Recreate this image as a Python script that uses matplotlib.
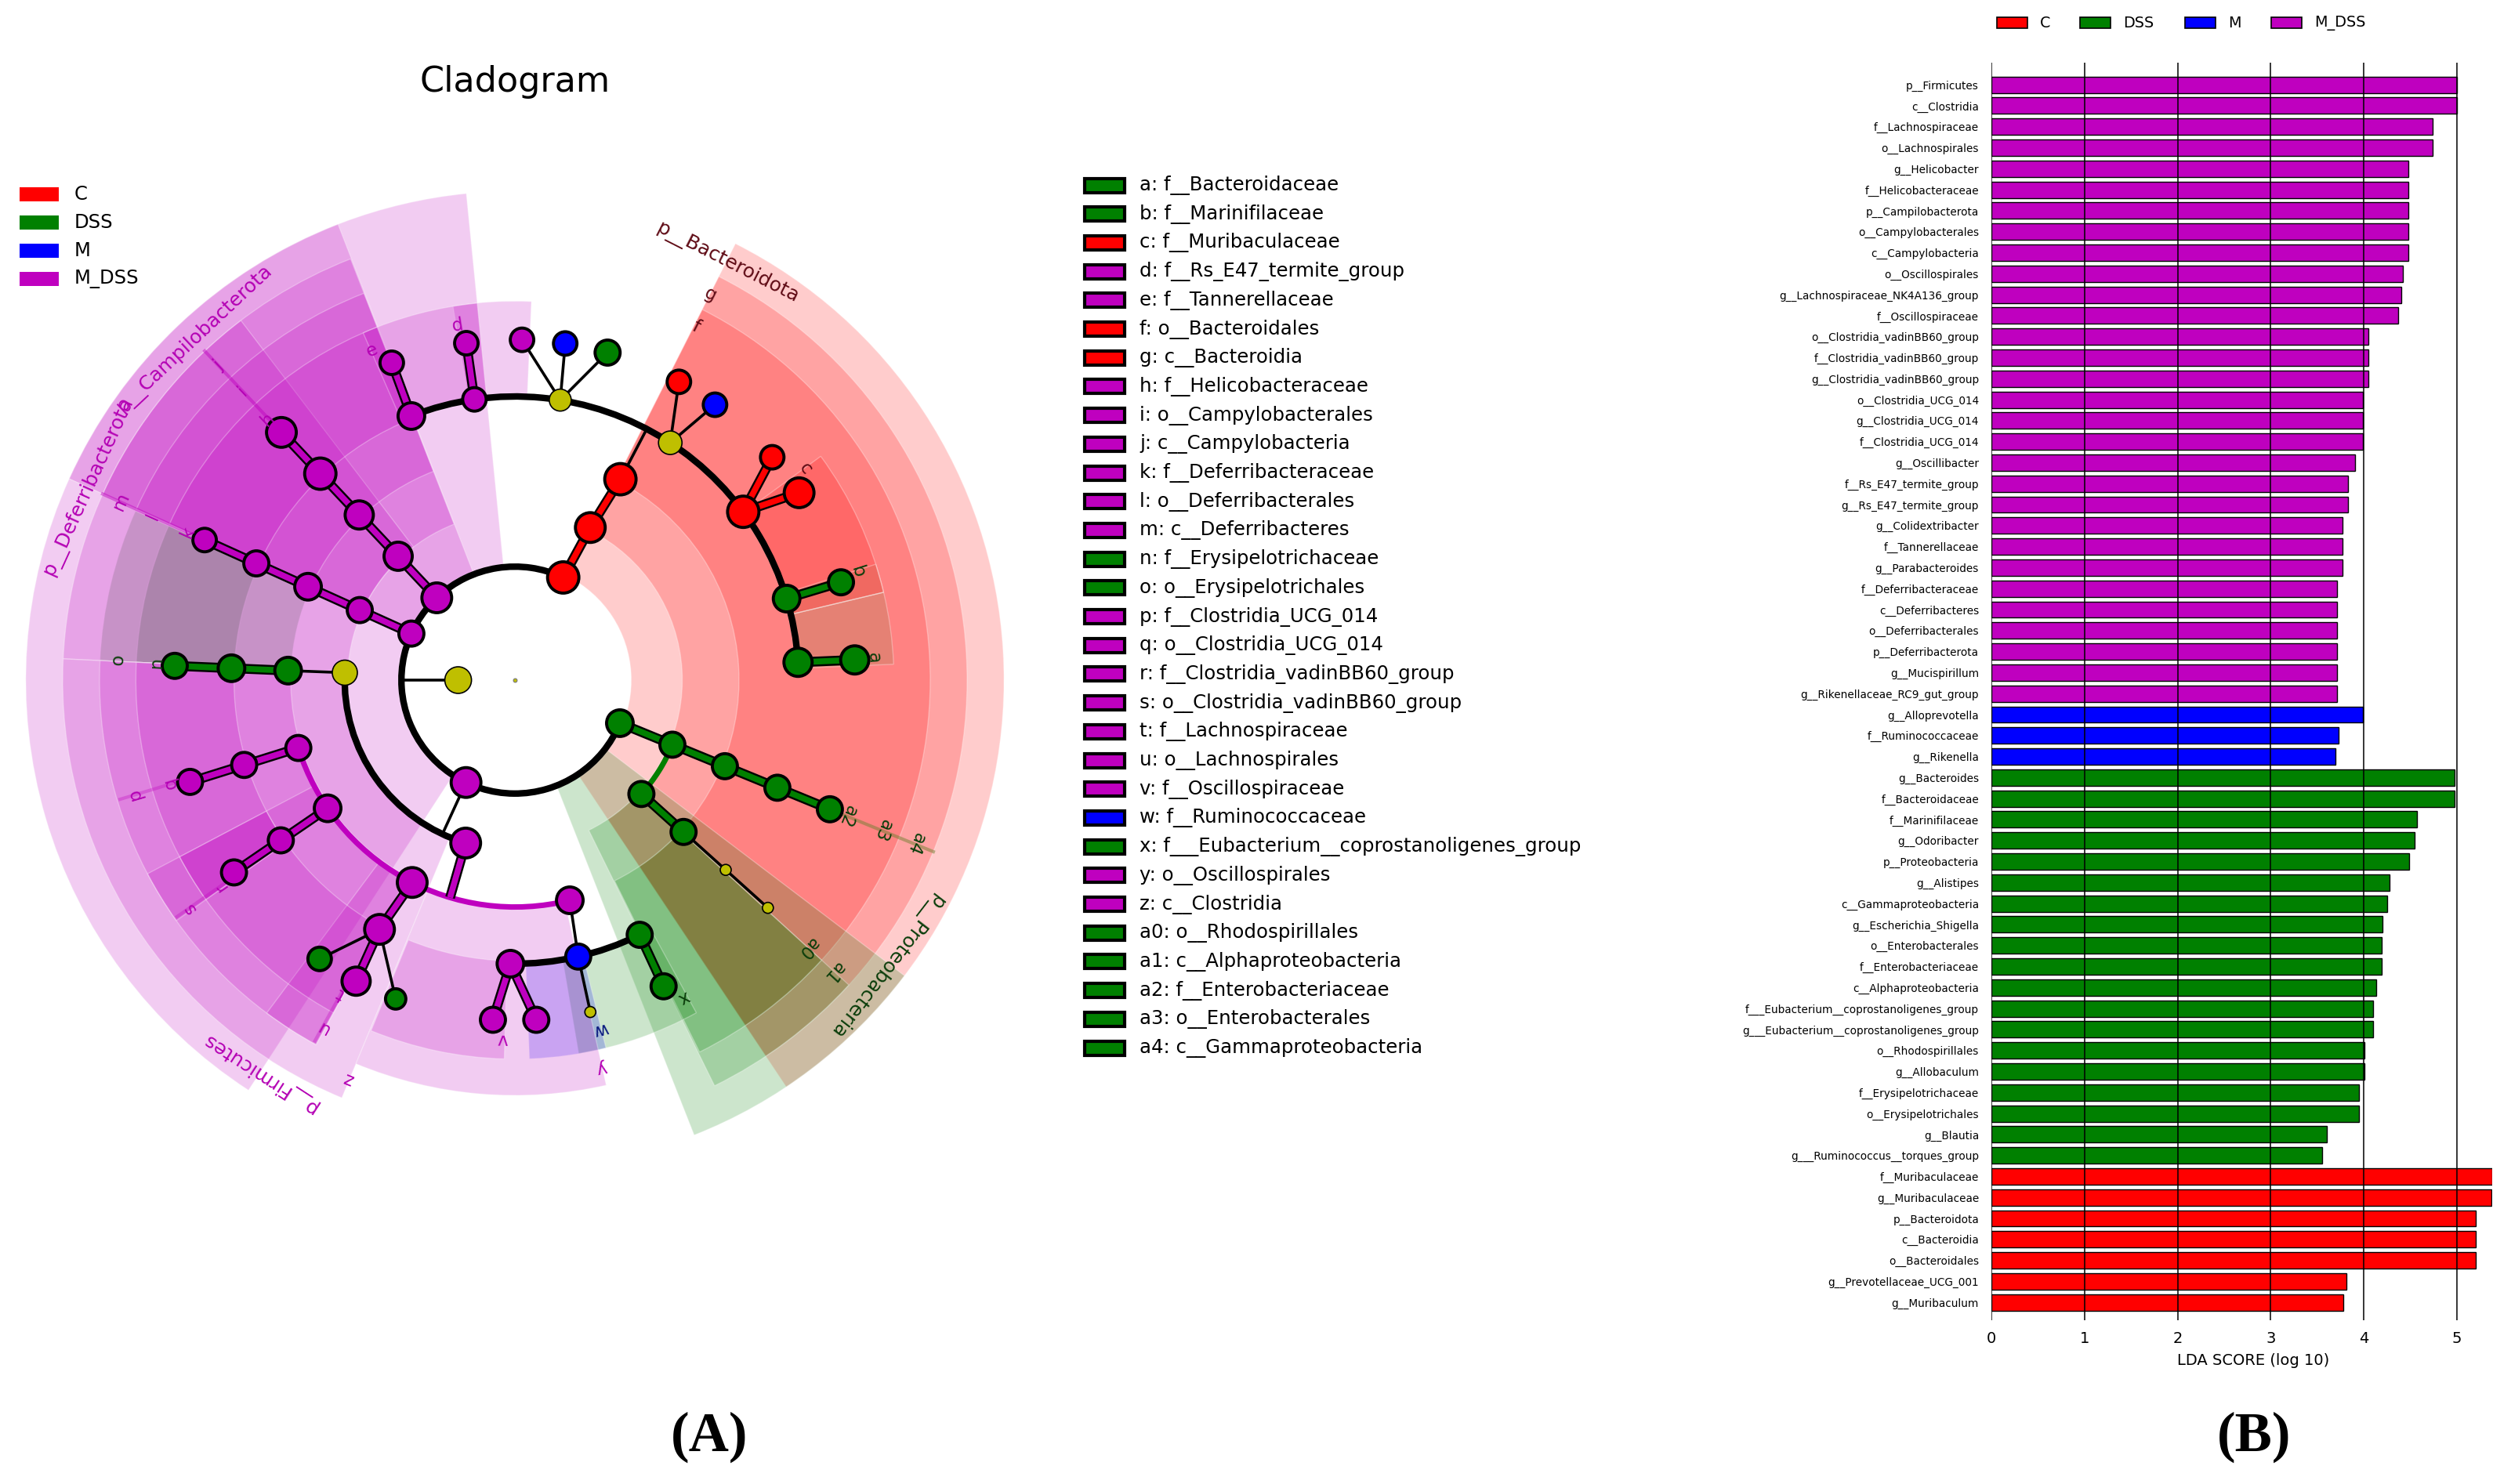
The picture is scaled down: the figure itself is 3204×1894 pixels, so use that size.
import numpy as np
import matplotlib
matplotlib.use("Agg")
import matplotlib.pyplot as plt
from matplotlib.patches import Wedge, Rectangle, Arc

W, H = 3204, 1894
OUT = "out.png"

colors = {"C": (1, 0, 0), "DSS": (0, 0.5, 0), "M": (0, 0, 1), "M_DSS": (0.75, 0, 0.75), "none": (0.75, 0.75, 0)}
label_colors = {"C": "#5e0a14", "DSS": "#0a3d0a", "M": "#0a1a80", "M_DSS": "#b400b4"}
groups = ["C", "DSS", "M", "M_DSS"]

# ---- panel B data ----
bar_names = [
    "p__Firmicutes", "c__Clostridia", "f__Lachnospiraceae", "o__Lachnospirales", "g__Helicobacter",
    "f__Helicobacteraceae", "p__Campilobacterota", "o__Campylobacterales", "c__Campylobacteria",
    "o__Oscillospirales", "g__Lachnospiraceae_NK4A136_group", "f__Oscillospiraceae",
    "o__Clostridia_vadinBB60_group", "f__Clostridia_vadinBB60_group", "g__Clostridia_vadinBB60_group",
    "o__Clostridia_UCG_014", "g__Clostridia_UCG_014", "f__Clostridia_UCG_014", "g__Oscillibacter",
    "f__Rs_E47_termite_group", "g__Rs_E47_termite_group", "g__Colidextribacter", "f__Tannerellaceae",
    "g__Parabacteroides", "f__Deferribacteraceae", "c__Deferribacteres", "o__Deferribacterales",
    "p__Deferribacterota", "g__Mucispirillum", "g__Rikenellaceae_RC9_gut_group",
    "g__Alloprevotella", "f__Ruminococcaceae", "g__Rikenella",
    "g__Bacteroides", "f__Bacteroidaceae", "f__Marinifilaceae", "g__Odoribacter", "p__Proteobacteria",
    "g__Alistipes", "c__Gammaproteobacteria", "g__Escherichia_Shigella", "o__Enterobacterales",
    "f__Enterobacteriaceae", "c__Alphaproteobacteria", "f___Eubacterium__coprostanoligenes_group",
    "g___Eubacterium__coprostanoligenes_group", "o__Rhodospirillales", "g__Allobaculum",
    "f__Erysipelotrichaceae", "o__Erysipelotrichales", "g__Blautia", "g___Ruminococcus__torques_group",
    "f__Muribaculaceae", "g__Muribaculaceae", "p__Bacteroidota", "c__Bacteroidia", "o__Bacteroidales",
    "g__Prevotellaceae_UCG_001", "g__Muribaculum",
]
bar_scores = [
    5.00, 5.00, 4.74, 4.74, 4.48, 4.48, 4.48, 4.48, 4.48, 4.42, 4.40, 4.37, 4.05, 4.05, 4.05,
    3.99, 3.99, 3.99, 3.91, 3.83, 3.83, 3.77, 3.77, 3.77, 3.71, 3.71, 3.71, 3.71, 3.71, 3.71,
    3.99, 3.73, 3.70,
    4.98, 4.98, 4.57, 4.55, 4.49, 4.28, 4.25, 4.20, 4.19, 4.19, 4.13, 4.10, 4.10, 4.01, 4.01,
    3.95, 3.95, 3.60, 3.55,
    5.38, 5.37, 5.20, 5.20, 5.20, 3.81, 3.78,
]
bar_groups = ["M_DSS"] * 30 + ["M"] * 3 + ["DSS"] * 19 + ["C"] * 7

# ---- panel A legend ----
key_letters = ["a", "b", "c", "d", "e", "f", "g", "h", "i", "j", "k", "l", "m", "n", "o", "p", "q", "r", "s",
               "t", "u", "v", "w", "x", "y", "z", "a0", "a1", "a2", "a3", "a4"]
key_names = ["f__Bacteroidaceae", "f__Marinifilaceae", "f__Muribaculaceae", "f__Rs_E47_termite_group",
             "f__Tannerellaceae", "o__Bacteroidales", "c__Bacteroidia", "f__Helicobacteraceae",
             "o__Campylobacterales", "c__Campylobacteria", "f__Deferribacteraceae", "o__Deferribacterales",
             "c__Deferribacteres", "f__Erysipelotrichaceae", "o__Erysipelotrichales", "f__Clostridia_UCG_014",
             "o__Clostridia_UCG_014", "f__Clostridia_vadinBB60_group", "o__Clostridia_vadinBB60_group",
             "f__Lachnospiraceae", "o__Lachnospirales", "f__Oscillospiraceae", "f__Ruminococcaceae",
             "f___Eubacterium__coprostanoligenes_group", "o__Oscillospirales", "c__Clostridia",
             "o__Rhodospirillales", "c__Alphaproteobacteria", "f__Enterobacteriaceae", "o__Enterobacterales",
             "c__Gammaproteobacteria"]
key_groups = ["DSS", "DSS", "C", "M_DSS", "M_DSS", "C", "C", "M_DSS", "M_DSS", "M_DSS", "M_DSS", "M_DSS", "M_DSS",
              "DSS", "DSS", "M_DSS", "M_DSS", "M_DSS", "M_DSS", "M_DSS", "M_DSS", "M_DSS", "M", "DSS", "M_DSS",
              "M_DSS", "DSS", "DSS", "DSS", "DSS", "DSS"]
# where each letter sits: rank ring and angle on the circle
key_ranks = ["f", "f", "f", "f", "f", "o", "c", "f", "o", "c", "f", "o", "c", "f", "o", "o", "f", "f", "o",
             "f", "o", "f", "f", "f", "o", "c", "o", "c", "f", "o", "c"]
key_angles = [3.6, 17.5, 36, 99.2, 113.5, 62.9, 63.1, 133.5, 133.3, 133.3, 155.7, 155.7, 155.6, 177.2, 177,
              196.6, 196.6, 215, 215, 241, 241, 268, 283.8, 298, 282.6, 247.3, -42.5, -42.5, -22.2, -22.2, -22.2]

phylum_names = ["p__Bacteroidota", "p__Campilobacterota", "p__Deferribacterota", "p__Firmicutes", "p__Proteobacteria"]
phylum_groups = ["C", "M_DSS", "M_DSS", "M_DSS", "DSS"]
phylum_angles = [63, 133.2, 155.5, 237, -37.6]

# ---- clade shading: group, rank, start angle, end angle ----
wedge_groups = ["C", "C", "C", "C",
                "DSS", "DSS", "DSS", "DSS", "DSS", "DSS", "DSS", "DSS",
                "M",
                "M_DSS", "M_DSS", "M_DSS", "M_DSS", "M_DSS", "M_DSS", "M_DSS", "M_DSS", "M_DSS", "M_DSS",
                "M_DSS", "M_DSS", "M_DSS", "M_DSS", "M_DSS", "M_DSS", "M_DSS"]
wedge_ranks = ["p", "c", "o", "f",
               "p", "c", "o", "f", "f", "f", "o", "f",
               "f",
               "p", "p", "p", "c", "c", "c", "o", "o", "o", "o", "o",
               "f", "f", "f", "f", "f", "f"]
wedge_start = [-56.3, -56.3, -56.3, 13.4,
               -68.5, -63.8, -63.6, -80.3, 2.4, 13.4, 156, 156,
               272.2,
               95.7, 111.2, 155.7, 111.3, 127.3, 177.3, 111.3, 177.3, 207.8, 233.3, 247.5,
               111.3, 87.5, 95.7, 177.3, 207.8, 247.7]
wedge_end = [63.2, 63.2, 63.2, 36.2,
             -37.2, -42.4, -42.4, -61.4, 13.4, 17.8, 177.3, 177.3,
             283.9,
             155.7, 155.7, 237, 155.7, 177.3, 247.5, 155.7, 241.4, 215.4, 241.4, 282.7,
             155.7, 99.4, 113.6, 241.4, 215.4, 268.4]
rank_inner = {"p": 2.05, "c": 2.95, "o": 3.95, "f": 4.95}
rank_outer = {"p": 8.62, "c": 7.97, "o": 7.32, "f": 6.68}
rank_label = {"f": 6.33, "o": 7.0, "c": 7.62, "p": 8.26}

# ---- tree nodes ----
node_levels = [1] + [2] * 5 + [3] * 7 + [4] * 10 + [5] * 18 + [6] * 25
node_angles = [180, 64.8, 133.5, 155.8, 244.5, 337.7, 63.7, 133.3, 155.7, 177.5, 337.7, 253.2, 318,
               62.3, 133.3, 155.7, 177.6, 197.4, 214.4, 243.1, 284, 337.7, 318,
               111.4, 98.2, 80.8, 56.8, 36.4, 16.7, 3.6, 133.3, 155.7, 177.6, 197.4, 214.4, 241.5, 269.1, 282.9,
               296.1, 337.7, 318,
               111.2, 98.2, 88.8, 81.5, 74.2, 61.2, 54, 40.9, 33.4, 16.7, 3.4, 133.3, 155.7, 177.6, 197.4, 214.4,
               235, 242.2, 249.5, 266.3, 273.6, 282.8, 295.9, 337.7, 318]
node_groups = ["none", "C", "M_DSS", "M_DSS", "M_DSS", "DSS", "C", "M_DSS", "M_DSS", "none", "DSS", "M_DSS", "DSS",
               "C", "M_DSS", "M_DSS", "DSS", "M_DSS", "M_DSS", "M_DSS", "M_DSS", "DSS", "DSS",
               "M_DSS", "M_DSS", "none", "none", "C", "DSS", "DSS", "M_DSS", "M_DSS", "DSS", "M_DSS", "M_DSS",
               "M_DSS", "M_DSS", "M", "DSS", "DSS", "none",
               "M_DSS", "M_DSS", "M_DSS", "M", "DSS", "C", "M", "C", "C", "DSS", "DSS", "M_DSS", "M_DSS", "DSS",
               "M_DSS", "M_DSS", "DSS", "M_DSS", "DSS", "M_DSS", "M_DSS", "none", "DSS", "DSS", "none"]
node_sizes = [17, 20, 19, 16, 19, 17, 19, 18, 16, 16, 16, 19, 16,
              20, 18, 17, 17, 16, 17, 19, 17, 16, 16,
              17, 15, 14, 15, 20, 17, 18, 20, 16, 17, 16, 16, 19, 17, 16, 16, 16, 7,
              15, 15, 15, 15, 16, 15, 15, 15, 19, 16, 18, 19, 15, 16, 16, 16,
              15, 18, 13, 16, 16, 7, 16, 16, 7]

# branches between nodes: (level, angle) -> (level, angle), by look
thin_edges = [(1, 180, 2, 180), (2, 244.5, 3, 244.8), (4, 62.3, 5, 62.3), (3, 177.5, 4, 177.6),
              (5, 80.8, 6, 88.8), (5, 80.8, 6, 81.5), (5, 80.8, 6, 74.2), (5, 56.8, 6, 61.2), (5, 56.8, 6, 54),
              (5, 241.5, 6, 235), (5, 241.5, 6, 249.5), (4, 284, 5, 282.9), (5, 282.9, 6, 282.8),
              (4, 318, 5, 318), (5, 318, 6, 318)]
thick_edges = [("C", 2, 64.8, 3, 63.7), ("C", 3, 63.7, 4, 62.3), ("C", 5, 36.4, 6, 40.9), ("C", 5, 36.4, 6, 33.4),
               ("DSS", 5, 16.7, 6, 16.7), ("DSS", 5, 3.6, 6, 3.4), ("DSS", 2, 337.7, 6, 337.7),
               ("DSS", 3, 318, 4, 318), ("DSS", 5, 296.1, 6, 295.9), ("DSS", 4, 177.6, 6, 177.6),
               ("M_DSS", 2, 133.5, 6, 133.3), ("M_DSS", 2, 155.8, 6, 155.7), ("M_DSS", 4, 197.4, 6, 197.4),
               ("M_DSS", 4, 214.4, 6, 214.4), ("M_DSS", 4, 243.1, 5, 241.5), ("M_DSS", 5, 241.5, 6, 242.2),
               ("M_DSS", 3, 253.2, 4, 253.4), ("M_DSS", 5, 111.4, 6, 111.2), ("M_DSS", 5, 98.2, 6, 98.2),
               ("M_DSS", 5, 269.1, 6, 266.3), ("M_DSS", 5, 269.1, 6, 273.6)]
arc_levels = [2, 3, 5, 5, 4, 3]
arc_start = [64.8, 177.5, 3.6, 269.1, 197.4, 318]
arc_end = [337.7, 253.2, 111.4, 296.1, 284, 337.7]
arc_groups = ["black", "black", "black", "black", "M_DSS", "DSS"]

# tick lines running out to the letters
tick_angles = [133.3, 155.7, 196.8, 215, 241, -22.3]
tick_inner = [6.1, 6.1, 6.2, 6.2, 6.2, 6.0]
tick_outer = [8.0, 8.0, 7.3, 7.3, 7.3, 8.0]
tick_colors = [(0.75, 0, 0.75, 0.45), (0.75, 0, 0.75, 0.45), (0.75, 0, 0.75, 0.3), (0.75, 0, 0.75, 0.3),
               (0.75, 0, 0.75, 0.3), (0.45, 0.5, 0.2, 0.5)]


def pol(level, angle):
    a = np.deg2rad(angle)
    return level * np.cos(a), level * np.sin(a)


fig = plt.figure(figsize=(W / 100, H / 100), dpi=100, facecolor="white")

# ---- cladogram, one level = 72.4 px, centre at 657,868 ----
UNIT = 72.4
ax = fig.add_axes([0, 0, 1, 1])
ax.set_xlim(-657 / UNIT, (W - 657) / UNIT)
ax.set_ylim((868 - H) / UNIT, 868 / UNIT)
ax.axis("off")

for g, rk, a1, a2 in zip(wedge_groups, wedge_ranks, wedge_start, wedge_end):
    alpha = 0.2
    if (a1, a2) == (2.4, 13.4):
        alpha = 0.1
    elif (a1, a2) == (13.4, 17.8):
        alpha = 0.06
    ro, ri = rank_outer[rk], rank_inner[rk]
    ax.add_patch(Wedge((0, 0), ro, a1, a2, width=ro - ri, fc=colors[g] + (alpha,),
                       ec=(1, 1, 1, 0.3), lw=1, zorder=1))

for a, r1, r2, c in zip(tick_angles, tick_inner, tick_outer, tick_colors):
    x1, y1 = pol(r1, a)
    x2, y2 = pol(r2, a)
    ax.plot([x1, x2], [y1, y2], color=c, lw=3, zorder=2, solid_capstyle="butt")

# arcs of the tree
for lev, a1, a2, g in zip(arc_levels, arc_start, arc_end, arc_groups):
    c = "black" if g == "black" else colors[g]
    lw = 6.0 if g == "black" else 5.0
    ax.add_patch(Arc((0, 0), 2 * lev, 2 * lev, theta1=a1, theta2=a2, color=c, lw=lw, zorder=3))

for l1, a1, l2, a2 in thin_edges:
    x1, y1 = pol(l1, a1)
    x2, y2 = pol(l2, a2)
    ax.plot([x1, x2], [y1, y2], color="black", lw=2.6, zorder=3)
for g, l1, a1, l2, a2 in thick_edges:
    x1, y1 = pol(l1, a1)
    x2, y2 = pol(l2, a2)
    ax.plot([x1, x2], [y1, y2], color="black", lw=9, zorder=3, solid_capstyle="butt")
    ax.plot([x1, x2], [y1, y2], color=colors[g], lw=5.5, zorder=3.1, solid_capstyle="butt")

xs, ys = pol(np.array(node_levels, float), np.array(node_angles, float))
ax.scatter(xs, ys, s=(2 * np.array(node_sizes) * 0.72) ** 2,
           c=[colors[g] for g in node_groups], edgecolors="black",
           linewidths=[1.2 if g == "none" else 2.8 for g in node_groups], zorder=4)
ax.scatter([0], [0], s=12, color=colors["none"], edgecolors="#777777", linewidths=0.8, zorder=4)

for let, g, rk, a in zip(key_letters, key_groups, key_ranks, key_angles):
    x, y = pol(rank_label[rk], a)
    ax.text(x, y, let, rotation=a - 90, rotation_mode="anchor", ha="center", va="center",
            fontsize=16.5, color=label_colors[g], zorder=5)
for nm, g, a in zip(phylum_names, phylum_groups, phylum_angles):
    x, y = pol(rank_label["p"], a)
    ax.text(x, y, nm, rotation=a - 90, rotation_mode="anchor", ha="center", va="center",
            fontsize=18, color=label_colors[g], zorder=5)

# ---- everything placed in pixels ----
px = fig.add_axes([0, 0, 1, 1], facecolor="none")
px.set_xlim(0, W)
px.set_ylim(H, 0)
px.axis("off")

px.text(657, 104, "Cladogram", fontsize=32, ha="center", va="center")

for i, g in enumerate(groups):
    y = 248 + 36 * i
    px.add_patch(Rectangle((25, y - 9), 50, 18, fc=colors[g], ec="none"))
    px.text(95, y, g, fontsize=17.5, va="center")

for i, (let, nm, g) in enumerate(zip(key_letters, key_names, key_groups)):
    y = 236.5 + 36.7 * i
    px.add_patch(Rectangle((1384, y - 9), 51, 18, fc=colors[g], ec="black", lw=3))
    px.text(1454, y, f"{let}: {nm}", fontsize=17.6, va="center")

legend_rect_x = [2548, 2654, 2788, 2898]
for g, x0 in zip(groups, legend_rect_x):
    px.add_patch(Rectangle((x0, 22), 39, 14, fc=colors[g], ec="black", lw=1.2))
    px.text(x0 + 55, 29, g, fontsize=13.8, va="center")

px.text(905, 1834, "(A)", fontsize=51, fontweight="bold", family="Liberation Serif", ha="center", va="center")
px.text(2876, 1834, "(B)", fontsize=51, fontweight="bold", family="Liberation Serif", ha="center", va="center")

# ---- LDA bars ----
ax_bar = fig.add_axes([2541 / W, 1 - 1685 / H, (3180 - 2541) / W, (1685 - 80) / H], facecolor="none")
y_pos = np.arange(len(bar_names))
ax_bar.barh(y_pos, bar_scores, height=0.78, color=[colors[g] for g in bar_groups],
            edgecolor="black", linewidth=1.0, zorder=2)
ax_bar.set_xlim(0, 5.38)
ax_bar.set_ylim(58.85, -1.05)
ax_bar.set_yticks(y_pos)
ax_bar.set_yticklabels(bar_names, fontsize=9.8)
ax_bar.set_xticks(range(6))
ax_bar.tick_params(axis="y", length=0, pad=11.5)
ax_bar.tick_params(axis="x", length=0, pad=10, labelsize=14)
ax_bar.set_xlabel("LDA SCORE (log 10)", fontsize=14, va="center")
ax_bar.xaxis.set_label_coords(0.523, -0.032)
ax_bar.grid(axis="x", color="black", lw=1.1, zorder=3)
ax_bar.set_axisbelow(False)
for s in ax_bar.spines.values():
    s.set_visible(False)

fig.savefig(OUT, dpi=100)
